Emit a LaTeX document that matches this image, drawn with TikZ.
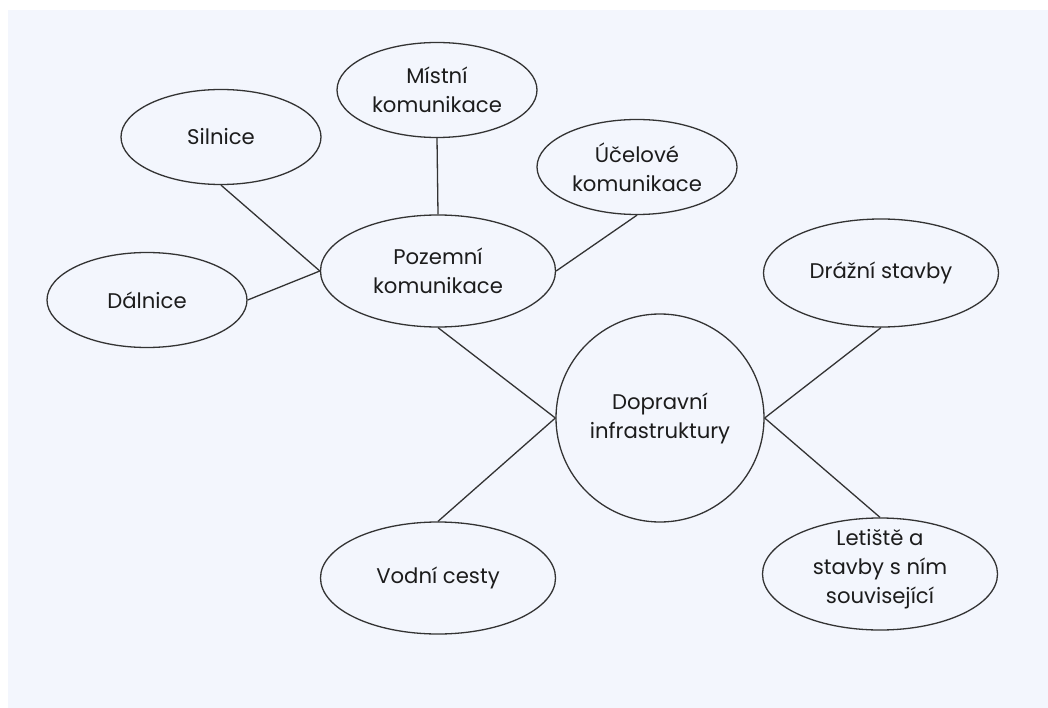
\documentclass[tikz,border=0pt]{standalone}
\usepackage{fontspec}
\setmainfont{Poppins}
\usetikzlibrary{shapes.geometric}
\definecolor{pagebg}{HTML}{F3F6FD}
\definecolor{inkline}{HTML}{333333}
\definecolor{inktext}{HTML}{1C1C1C}
\tikzset{
  bubble/.style={ellipse, draw=inkline, line width=1.3pt, inner sep=0pt,
    align=center, text=inktext, font=\fontsize{21.2}{29}\selectfont},
  small/.style={bubble, minimum width=200pt, minimum height=95pt},
  large/.style={bubble, minimum width=235pt, minimum height=112pt},
  hub/.style={circle, draw=inkline, line width=1.3pt, inner sep=0pt,
    minimum size=208pt, align=center, text=inktext,
    font=\fontsize{21.2}{29}\selectfont},
  link/.style={draw=inkline, line width=1.3pt}
}
\begin{document}
\begin{tikzpicture}[x=1pt, y=-1pt]
  % page and panel
  \fill[white] (0,0) rectangle (1048,708);
  \fill[pagebg] (8,10) rectangle (1048,708);
  \useasboundingbox (0,0) rectangle (1048,708);

  % nodes
  \node[small] (sil) at (221,137) {Silnice};
  \node[small] (mis) at (437,90) {Místní\\komunikace};
  \node[small] (uce) at (637,167) {Účelové\\komunikace};
  \node[small] (dal) at (147,300) {Dálnice};
  \node[large] (poz) at (438,271) {Pozemní\\komunikace};
  \node[hub]   (dop) at (660,418) {Dopravní\\infrastruktury};
  \node[large, minimum height=108pt] (dra) at (881,273) {Drážní stavby};
  \node[large] (vod) at (438,578) {Vodní cesty};
  \node[large] (let) at (880,574) {\smash{\begin{tabular}{@{}c@{}}Letiště a\\stavby s ním\\související\end{tabular}}};

  % connectors
  \draw[link] (sil.south) -- (poz.west);
  \draw[link] (dal.east) -- (poz.west);
  \draw[link] (mis.south) -- (poz.north);
  \draw[link] (uce.south) -- (poz.east);
  \draw[link] (poz.south) -- (dop.west);
  \draw[link] (vod.north) -- (dop.west);
  \draw[link] (dra.south) -- (dop.east);
  \draw[link] (let.north) -- (dop.east);
\end{tikzpicture}
\end{document}
